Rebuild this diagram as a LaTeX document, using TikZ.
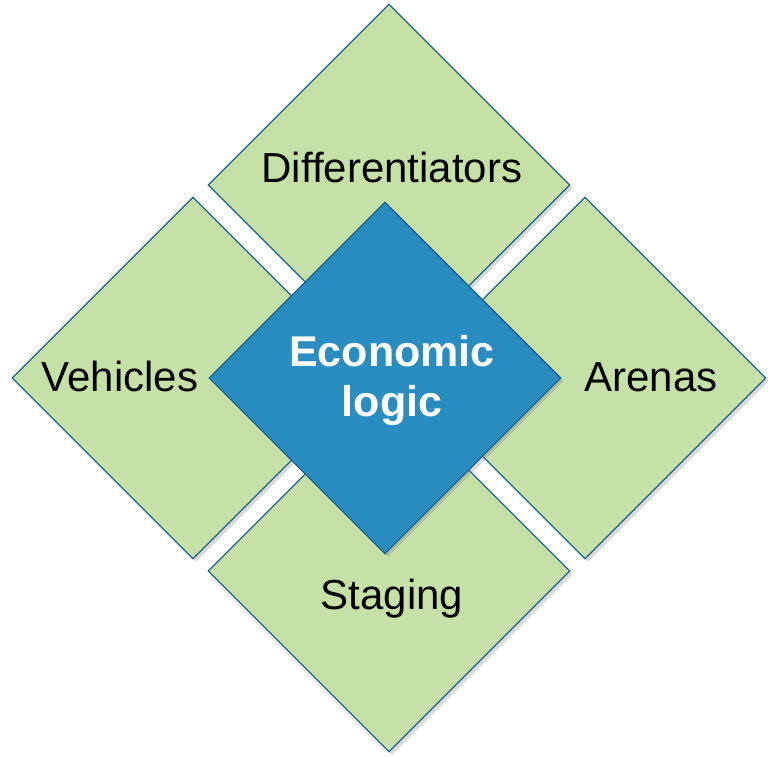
\documentclass[tikz,border=0pt]{standalone}
\usepackage{fontspec}
\setmainfont{Liberation Sans}
\usetikzlibrary{shapes.geometric,shadows}
\definecolor{tilegreen}{RGB}{197,225,167}
\definecolor{tileedge}{RGB}{31,98,139}
\definecolor{logicblue}{RGB}{42,141,194}
\begin{document}
\begin{tikzpicture}[x=1pt,y=-1pt]
    \tikzstyle{tile}=[diamond,aspect=1,inner sep=0pt,minimum size=362pt,draw=tileedge,line width=1.3pt,fill=tilegreen,
                      drop shadow={opacity=0.3,shadow xshift=3pt,shadow yshift=-3pt}]
    \tikzstyle{word}=[font=\fontsize{42}{50}\selectfont,anchor=base]
    \useasboundingbox (0,0) rectangle (768,756);
    % outer tiles
    \node[tile] (diff) at (389,185) {};
    \node[tile] (veh)  at (193,378) {};
    \node[tile] (are)  at (585,378) {};
    \node[tile] (stag) at (389,571) {};
    % centre tile
    \node[tile,fill=logicblue,minimum size=352pt] (econ) at (385,378) {};
    \node[word] (difftext) at (392,182) {Differentiators};
    \node[word] (vehtext)  at (120,391) {Vehicles};
    \node[word] (aretext)  at (651,391) {Arenas};
    \node[word] (stagtext) at (392,609) {Staging};
    \node[word,anchor=center,align=center,text=white,font=\fontsize{43}{50}\selectfont\bfseries] (econtext) at (392,380) {Economic\\logic};
\end{tikzpicture}
\end{document}
